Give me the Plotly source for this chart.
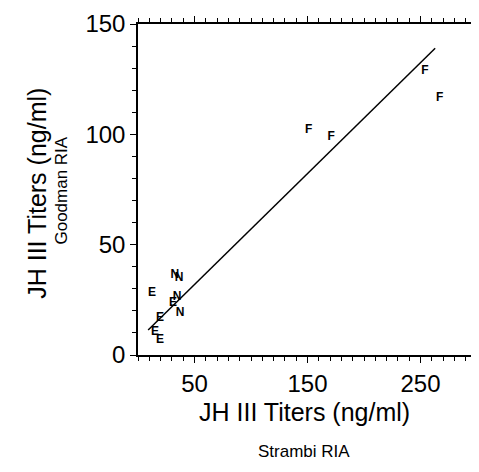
import plotly.graph_objects as go

# Data
f_x = [254, 267, 151, 171]
f_y = [128.7, 116.4, 102, 98.8]
e_x = [12.4, 31, 19.5, 15, 19.5]
e_y = [28.1, 23.6, 16.8, 10.4, 6.8]
n_x = [32.7, 36.3, 34.5, 37.2]
n_y = [36.2, 34.9, 26.3, 19]
line_x = [9, 263]
line_y = [11.3, 139]

x_ticks = [50, 150, 250]
y_ticks = [0, 50, 100, 150]

FONT = "Liberation Sans, Arial, sans-serif"

fig = go.Figure()
fig.add_trace(go.Scatter(x=line_x, y=line_y, mode="lines",
                         line=dict(color="black", width=1.5), showlegend=False))
for xs, ys, lab in [(f_x, f_y, "F"), (e_x, e_y, "E"), (n_x, n_y, "N")]:
    fig.add_trace(go.Scatter(x=xs, y=ys, mode="text", text=[lab] * len(xs),
                             textposition="middle center",
                             textfont=dict(family=FONT, size=12, color="black", weight="bold"),
                             showlegend=False))

axis_common = dict(showgrid=False, zeroline=False, showline=True, linecolor="black",
                   linewidth=1.5, ticks="outside", tickcolor="black", tickwidth=1.2,
                   mirror="ticks", automargin=False,
                   tickfont=dict(family=FONT, size=24, color="black"))

fig.update_xaxes(range=[0, 300], tickvals=x_ticks, ticklen=6,
                 minor=dict(dtick=10, tick0=0, ticklen=4, ticks="outside", tickcolor="black"),
                 **axis_common)
fig.update_yaxes(range=[0, 150], tickvals=y_ticks, ticklen=6,
                 minor=dict(dtick=10, tick0=0, ticklen=4, ticks="outside", tickcolor="black"),
                 **axis_common)

ann = [
    dict(text="JH III Titers (ng/ml)", x=0.49, y=-0.172, font=dict(size=25)),
    dict(text="Strambi RIA", x=0.49, y=-0.293, font=dict(size=17)),
    dict(text="JH III Titers (ng/ml)", x=-0.298, y=0.49, font=dict(size=25), textangle=-90),
    dict(text="Goodman RIA", x=-0.227, y=0.497, font=dict(size=17), textangle=-90),
]
for a in ann:
    a["font"].update(family=FONT, color="black")
    fig.add_annotation(xref="paper", yref="paper", showarrow=False,
                       xanchor="center", yanchor="middle", **a)

fig.update_layout(width=471, height=464, margin=dict(l=130, r=2, t=16, b=117),
                  plot_bgcolor="white", paper_bgcolor="white")

fig.write_html("out.html")
